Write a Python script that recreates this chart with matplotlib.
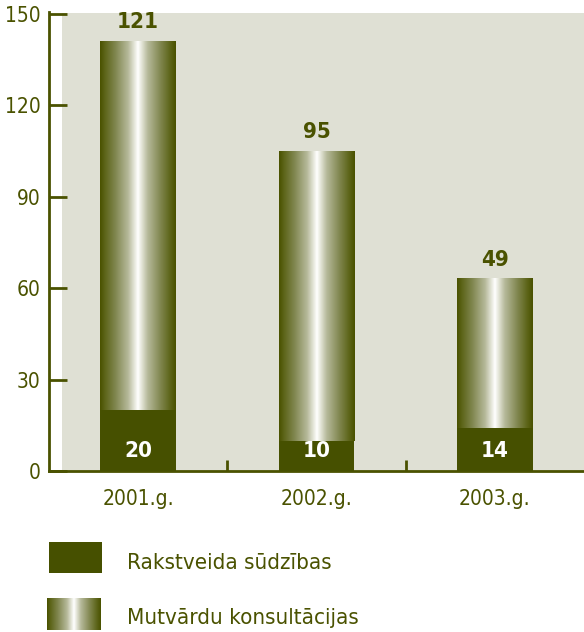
import matplotlib
matplotlib.use("Agg")
import matplotlib.pyplot as plt
import numpy as np
from matplotlib.colors import LinearSegmentedColormap
from matplotlib.patches import Rectangle

# data
years = ["2001.g.", "2002.g.", "2003.g."]
written = [20, 10, 14]          # Rakstveida sūdzības
oral = [121, 95, 49]            # Mutvārdu konsultācijas
y_ticks = [0, 30, 60, 90, 120, 150]

DARK = "#465000"
BG = "#dfe0d4"
TEXT = "#4a5200"

plt.rcParams["font.family"] = ["DejaVu Sans"]
plt.rcParams["font.stretch"] = "condensed"

# horizontal "cylinder" shading of the upper bar segment
grad = LinearSegmentedColormap.from_list(
    "cyl", [(0.0, "#4a5200"), (0.06, "#5c6418"), (0.2, "#80864f"),
            (0.37, "#b6b99a"), (0.46, "#e9eadf"), (0.5, "#ffffff"),
            (0.54, "#e9eadf"), (0.63, "#b6b99a"), (0.8, "#80864f"),
            (0.93, "#5c6418"), (1.0, "#4a5200")])
row = np.linspace(0, 1, 200).reshape(1, -1)

W, H = 584, 632
fig = plt.figure(figsize=(W / 100, H / 100), dpi=100)

# background panel (starts right of the y ticks)
fig.patches.append(Rectangle((62 / W, 1 - 471 / H), (W - 62) / W, (471 - 13) / H,
                             transform=fig.transFigure, facecolor=BG,
                             edgecolor="none", zorder=-1))

ax = fig.add_axes([49 / W, 1 - 471 / H, 1 - 49 / W, (471 - 14) / H])
ax.set_facecolor("none")

x = np.arange(len(years))
bw = 0.425
for i in x:
    ax.bar(i, written[i], width=bw, color=DARK, zorder=3)
    top = written[i] + oral[i]
    ax.imshow(row, cmap=grad, aspect="auto", zorder=2,
              extent=(i - bw / 2, i + bw / 2, written[i], top))
    ax.text(i, top + 3, str(oral[i]), ha="center", va="bottom",
            fontsize=16, fontweight="bold", color=TEXT)
    ax.text(i, 6.5, str(written[i]), ha="center", va="center",
            fontsize=16, fontweight="bold", color="white", zorder=4)
ax.set_xlim(-0.5, 2.5)
ax.set_ylim(0, 150)

for s in ["top", "right"]:
    ax.spines[s].set_visible(False)
ax.spines["left"].set_color(TEXT)
ax.spines["bottom"].set_color(TEXT)
ax.spines["left"].set_linewidth(2)
ax.spines["bottom"].set_linewidth(2)
ax.spines["left"].set_bounds(0, 150.5)

ax.set_yticks(y_ticks)
ax.tick_params(axis="y", direction="in", length=13, width=2, color=TEXT,
               labelcolor=TEXT, labelsize=15, pad=6)
ax.set_xticks([0.5, 1.5])
ax.set_xticklabels([])
ax.tick_params(axis="x", direction="in", length=8, width=2, color=TEXT)
for i, lab in enumerate(years):
    ax.text(i, -6, lab, ha="center", va="top", fontsize=15, color=TEXT,
            clip_on=False)

# legend
fig.patches.append(Rectangle((49 / W, 1 - 573 / H), 53 / W, 31 / H,
                             transform=fig.transFigure, facecolor=DARK,
                             edgecolor="none"))
lax = fig.add_axes([47 / W, 1 - 630 / H, 54 / W, 32 / H])
lax.imshow(row, cmap=grad, aspect="auto")
lax.axis("off")
fig.text(127 / W, 1 - 563 / H, "Rakstveida sūdzības", fontsize=16,
         color=TEXT, va="center", ha="left")
fig.text(127 / W, 1 - 618 / H, "Mutvārdu konsultācijas", fontsize=16,
         color=TEXT, va="center", ha="left")

fig.savefig("out.png", dpi=100)
